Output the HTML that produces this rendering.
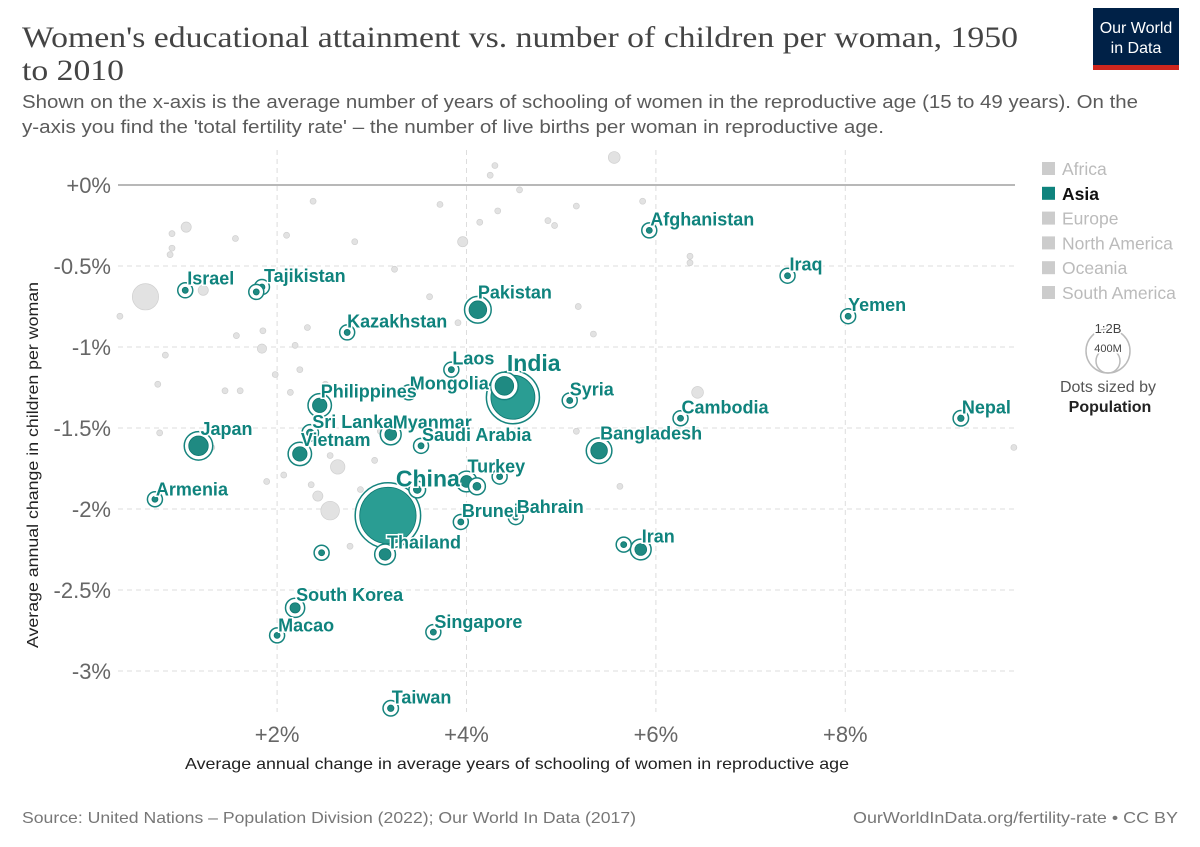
<!DOCTYPE html>
<html><head><meta charset="utf-8"><style>
body{margin:0;background:#fff;font-family:"Liberation Sans",sans-serif;}
svg{display:block}
</style></head><body>
<svg id="c" width="1200" height="847" xmlns="http://www.w3.org/2000/svg">
<text x="22" y="47" font-family="Liberation Serif,serif" font-size="30" fill="#444" textLength="996" lengthAdjust="spacingAndGlyphs">Women's educational attainment vs. number of children per woman, 1950</text>
<text x="22" y="80" font-family="Liberation Serif,serif" font-size="30" fill="#444" textLength="102" lengthAdjust="spacingAndGlyphs">to 2010</text>
<text x="22" y="108" font-size="18" fill="#5b5b5b" textLength="1116" lengthAdjust="spacingAndGlyphs">Shown on the x-axis is the average number of years of schooling of women in the reproductive age (15 to 49 years). On the</text>
<text x="22" y="133" font-size="18" fill="#5b5b5b" textLength="862" lengthAdjust="spacingAndGlyphs">y-axis you find the 'total fertility rate' – the number of live births per woman in reproductive age.</text>
<g>
<rect x="1093" y="8" width="86" height="62" fill="#002147"/>
<rect x="1093" y="65" width="86" height="5" fill="#ce261e"/>
<text x="1136" y="33" font-size="16" fill="#fff" text-anchor="middle">Our World</text>
<text x="1136" y="53" font-size="16" fill="#fff" text-anchor="middle">in Data</text>
</g>
<g id="grid"></g><g id="gray"></g><g id="asia"></g><g id="labels"></g>
<text x="185" y="769" font-size="16" fill="#222" textLength="664" lengthAdjust="spacingAndGlyphs">Average annual change in average years of schooling of women in reproductive age</text>
<text transform="translate(38,648) rotate(-90)" font-size="16" fill="#222" textLength="366" lengthAdjust="spacingAndGlyphs">Average annual change in children per woman</text>
<g id="legend"></g>
<g>
<circle cx="1108" cy="351" r="22" fill="none" stroke="#bbb" stroke-width="1.5"/>
<circle cx="1108" cy="361" r="12" fill="none" stroke="#bbb" stroke-width="1.5"/>
<text x="1108" y="333" font-size="13" fill="#444" text-anchor="middle" stroke="#fff" stroke-width="3" paint-order="stroke">1:2B</text>
<text x="1108" y="352" font-size="11" fill="#444" text-anchor="middle" stroke="#fff" stroke-width="3" paint-order="stroke">400M</text>
<text x="1108" y="392" font-size="16" fill="#555" text-anchor="middle">Dots sized by</text>
<text x="1110" y="412" font-size="16" font-weight="bold" fill="#222" text-anchor="middle">Population</text>
</g>
<text x="22" y="823" font-size="16" fill="#777" textLength="614" lengthAdjust="spacingAndGlyphs">Source: United Nations – Population Division (2022); Our World In Data (2017)</text>
<text x="853" y="823" font-size="16" fill="#777" textLength="325" lengthAdjust="spacingAndGlyphs">OurWorldInData.org/fertility-rate • CC BY</text>
</svg>
<script>
const xTicks=[2,4,6,8];
const yTicks=[0,-0.5,-1,-1.5,-2,-2.5,-3];
const yTickLabels=["+0%","-0.5%","-1%","-1.5%","-2%","-2.5%","-3%"];
const xTickLabels=["+2%","+4%","+6%","+8%"];
const asiaNames=["Afghanistan","Iraq","Yemen","Nepal","Israel","Tajikistan","Kyrgyzstan","Pakistan","Kazakhstan","Laos","India","Indonesia","Mongolia","Syria","Cambodia","Philippines","Sri Lanka","Myanmar","Saudi Arabia","Japan","Vietnam","Bangladesh","Turkey","Uzbekistan","Jordan","China","North Korea","Armenia","Brunei","Bahrain","Thailand","Malaysia","Iran","Iraq2","South Korea","Macao","Singapore","Taiwan"];
const asiaX=[5.93,7.39,8.03,9.22,1.03,1.84,1.78,4.12,2.74,3.84,4.49,4.40,3.39,5.09,6.26,2.45,2.35,3.20,3.52,1.17,2.24,5.40,4.00,4.11,4.35,3.17,3.48,0.71,3.94,4.52,3.14,2.47,5.84,5.66,2.19,2.00,3.65,3.20];
const asiaY=[-0.28,-0.56,-0.81,-1.44,-0.65,-0.63,-0.66,-0.77,-0.91,-1.14,-1.31,-1.24,-1.28,-1.33,-1.44,-1.36,-1.53,-1.54,-1.61,-1.61,-1.66,-1.64,-1.83,-1.86,-1.80,-2.04,-1.88,-1.94,-2.08,-2.05,-2.28,-2.27,-2.25,-2.22,-2.61,-2.78,-2.76,-3.23];
const asiaPop=[10,10,8,12,5,6,5,90,10,4,560,100,2,10,7,60,16,40,10,110,60,80,40,18,3,920,17,3,1,1,40,3,40,3,30,1,3,12];
const shownLabels=["Afghanistan","Iraq","Yemen","Nepal","Israel","Tajikistan","Pakistan","Kazakhstan","Laos","India","Mongolia","Syria","Cambodia","Philippines","Sri Lanka","Myanmar","Saudi Arabia","Japan","Vietnam","Bangladesh","Turkey","China","Armenia","Brunei","Bahrain","Thailand","Iran","South Korea","Macao","Singapore","Taiwan"];
const labelDx=[1,2,0,1,2,2,0,0,1,-6,1,0,1,1,2,2,1,2,1,1,1,8,1,1,1,2,1,1,1,1,1];
const labelDy=[-5,-5,-5,-5,-6,-5,-11,-5,-5,-26,-3,-5,-5,-8,-5,-6,-5,-11,-8,-11,-9,-29,-4,-5,-4,-6,-7,-7,-4,-4,-5];
const grayX=[0.34,0.61,0.87,1.04,0.89,0.89,1.22,1.56,2.10,2.38,2.82,1.57,1.84,1.85,0.82,0.74,0.76,1.45,1.61,1.98,2.14,2.51,2.19,2.24,2.32,2.56,2.64,2.56,2.43,1.89,2.07,2.36,2.88,2.77,3.03,3.09,3.24,3.61,3.72,3.91,3.96,4.25,4.30,5.56,5.16,4.93,5.18,5.34,4.86,5.16,6.44,6.36,6.36,5.86,5.62,9.78,4.14,4.33,4.56,1.31];
const grayY=[-0.81,-0.69,-0.43,-0.26,-0.30,-0.39,-0.65,-0.33,-0.31,-0.10,-0.35,-0.93,-1.01,-0.90,-1.05,-1.23,-1.53,-1.27,-1.27,-1.17,-1.28,-1.23,-0.99,-1.14,-0.88,-1.67,-1.74,-2.01,-1.92,-1.83,-1.79,-1.85,-1.88,-2.23,-1.70,-1.52,-0.52,-0.69,-0.12,-0.85,-0.35,0.06,0.12,0.17,-0.13,-0.25,-0.75,-0.92,-0.22,-1.52,-1.28,-0.48,-0.44,-0.10,-1.86,-1.62,-0.23,-0.16,-0.03,-1.62];
const grayPop=[2,200,2,30,2,3,30,2,2,2,2,2,25,3,5,3,2,2,2,2,2,2,2,2,2,2,60,100,30,2,2,2,2,2,2,2,2,2,2,2,30,2,2,40,2,2,2,2,2,4,40,2,2,2,2,2,2,2,2,10];
const NS="http://www.w3.org/2000/svg";
const X0=118,X1=1015;
function sx(v){return 87.7+v*94.7;}
function sy(v){return 185-v*162;}
function rad(p){return Math.max(3,Math.sqrt(p)*0.93);}
function mk(tag,attrs,parent){const e=document.createElementNS(NS,tag);for(const k in attrs)e.setAttribute(k,attrs[k]);document.getElementById(parent).appendChild(e);return e;}
yTicks.forEach((t,i)=>{
  const l=mk('line',{x1:X0,x2:X1,y1:sy(t),y2:sy(t),stroke:t===0?'#a0a0a0':'#ddd','stroke-width':t===0?1.5:1,'stroke-dasharray':t===0?'':'5,4'},'grid');
  
  
  const tx=mk('text',{x:111,y:sy(t)+8,'font-size':22,fill:'#666','text-anchor':'end'},'grid');
  tx.textContent=yTickLabels[i];
  
  
});
xTicks.forEach((t,i)=>{
  const l=mk('line',{x1:sx(t),x2:sx(t),y1:150,y2:712,stroke:'#ddd','stroke-dasharray':'5,4'},'grid');
  
  
  const tx=mk('text',{x:sx(t),y:742,'font-size':22,fill:'#666','text-anchor':'middle'},'grid');
  tx.textContent=xTickLabels[i];
  
  
});
grayX.forEach((v,i)=>{
  const c=mk('circle',{cx:sx(v),cy:sy(grayY[i]),r:rad(grayPop[i]),fill:'#e2e2e2',stroke:'#d0d0d0','stroke-width':0.7},'gray');
  
  
});
const order=asiaPop.map((p,i)=>i).sort((a,b)=>asiaPop[b]-asiaPop[a]);
order.forEach(i=>{
  const r=rad(asiaPop[i]);
  const g=mk('g',{},'asia');
  
  
  const ring=document.createElementNS(NS,'circle');
  ring.setAttribute('cx',sx(asiaX[i]));ring.setAttribute('cy',sy(asiaY[i]));ring.setAttribute('r',r+4.5);
  ring.setAttribute('fill','#fff');ring.setAttribute('stroke','#16847e');ring.setAttribute('stroke-width','1.5');
  g.appendChild(ring);
  const c=document.createElementNS(NS,'circle');
  c.setAttribute('cx',sx(asiaX[i]));c.setAttribute('cy',sy(asiaY[i]));c.setAttribute('r',r);
  c.setAttribute('fill',asiaPop[i]>300?'#2a9d93':'#1f8a82');c.setAttribute('stroke','#0d7770');c.setAttribute('stroke-width','0.8');
  g.appendChild(c);
});
shownLabels.forEach((n,j)=>{
  const i=asiaNames.indexOf(n);
  const big=(n==="China"||n==="India");
  const t=mk('text',{x:sx(asiaX[i])+labelDx[j],y:sy(asiaY[i])+labelDy[j],'font-size':big?23:18,'font-weight':'bold',fill:'#0f837d',stroke:'#fff','stroke-width':3,'paint-order':'stroke'},'labels');
  t.textContent=n;
  
  
});
const continents=["Africa","Asia","Europe","North America","Oceania","South America"];
continents.forEach((n,i)=>{
  const y=169+i*24.8;
  const act=n==="Asia";
  const s=mk('rect',{x:1042,y:y-7,width:13,height:13,fill:act?'#0f837d':'#ccc'},'legend');
  
  
  const t=mk('text',{x:1062,y:y+6,'font-size':17.5,fill:act?'#111':'#bbb','font-weight':act?'bold':'normal'},'legend');
  t.textContent=n;
  
  
});
</script>
</body></html>
